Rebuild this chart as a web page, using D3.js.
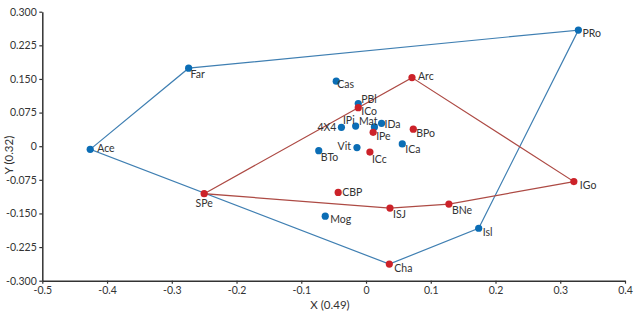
<!DOCTYPE html>
<html>
<head>
<meta charset="utf-8">
<script src="https://cdn.jsdelivr.net/npm/d3@7"></script>
<style>
  body { margin: 0; background: #fff; }
  svg text { font-family: Lato, "DejaVu Sans", sans-serif; fill: #333; }
</style>
</head>
<body>
<svg id="chart" width="635" height="319"></svg>
<script>
// point data
const names = ['Ace', 'Far', 'PRo', 'Isl', 'Cha', 'SPe', 'Arc', 'IGo', 'BNe', 'ISJ', 'CBP', 'Mog',
    'Cas', 'PBl', 'ICo', '4X4', 'IPi', 'Mat', 'IDa', 'IPe', 'BPo', 'ICa', 'Vit', 'BTo', 'ICc'];
const xVals = [-0.426, -0.274, 0.328, 0.174, 0.036, -0.250, 0.071, 0.321, 0.128, 0.037, -0.043, -0.063,
    -0.046, -0.012, -0.012, -0.038, -0.016, 0.013, 0.024, 0.011, 0.073, 0.056, -0.014, -0.073, 0.006];
const yVals = [-0.007, 0.174, 0.259, -0.183, -0.263, -0.106, 0.153, -0.079, -0.129, -0.138, -0.103, -0.156,
    0.145, 0.095, 0.086, 0.042, 0.045, 0.043, 0.051, 0.031, 0.038, 0.005, -0.003, -0.010, -0.013];
const groups = ['b', 'b', 'b', 'b', 'r', 'r', 'r', 'r', 'r', 'r', 'r', 'b',
    'b', 'b', 'r', 'b', 'b', 'b', 'b', 'r', 'r', 'b', 'b', 'b', 'r'];

// hull outlines
const blueHull = ['Ace', 'Far', 'PRo', 'Isl', 'Cha'];
const redHull = ['SPe', 'Arc', 'IGo', 'BNe', 'ISJ'];

const xTicks = [-0.5, -0.4, -0.3, -0.2, -0.1, 0, 0.1, 0.2, 0.3, 0.4];
const yTicks = [-0.300, -0.225, -0.150, -0.075, 0, 0.075, 0.150, 0.225, 0.300];
const xTitle = 'X (0.49)';
const yTitle = 'Y (0.32)';

// label placement (dx, dy, anchor)
const labelPos = {
    Ace: [7, 3, 'start'], Far: [2, 10, 'start'], PRo: [4, 7, 'start'], Isl: [4, 8, 'start'],
    Cha: [5, 8, 'start'], SPe: [0, 13, 'middle'], Arc: [6, 2, 'start'], IGo: [6, 7, 'start'],
    BNe: [3, 10, 'start'], ISJ: [3, 10, 'start'], CBP: [4, 4, 'start'], Mog: [5, 7, 'start'],
    Cas: [1, 7, 'start'], PBl: [3, -1, 'start'], ICo: [3, 7, 'start'], '4X4': [-5, 4, 'end'],
    IPi: [-1, -2, 'end'], Mat: [3, -1.5, 'end'], IDa: [3, 5, 'start'], IPe: [3, 8, 'start'],
    BPo: [3, 8, 'start'], ICa: [3, 9, 'start'], Vit: [-6, 2, 'end'], BTo: [2, 10, 'start'],
    ICc: [2, 11, 'start']
};

const colors = {
    b: { dot: '#0b6db5', line: '#3f7fb2' },
    r: { dot: '#cc2229', line: '#ad4a44' }
};

const points = names.map((n, i) => ({ name: n, x: xVals[i], y: yVals[i], g: groups[i] }));
const byName = {};
points.forEach(p => byName[p.name] = p);

const svg = d3.select('#chart');

const xScale = d3.scaleLinear().domain([-0.5, 0.4]).range([42.3, 625]);
const yScale = d3.scaleLinear().domain([-0.3, 0.3]).range([280.7, 11.7]);

//axes
const xAxis = d3.axisBottom(xScale)
    .tickValues(xTicks)
    .tickSize(3)
    .tickSizeOuter(0)
    .tickPadding(3)
    .tickFormat(d => d === 0 ? '0' : d3.format('.1f')(d).replace('−', '-'));

const yAxis = d3.axisLeft(yScale)
    .tickValues(yTicks)
    .tickSize(3)
    .tickSizeOuter(0)
    .tickPadding(2.5)
    .tickFormat(d => Math.abs(d) < 1e-9 ? '0' : d3.format('.3f')(d).replace('−', '-'));

const gx = svg.append('g')
    .attr('transform', `translate(0, ${yScale(-0.3)})`)
    .call(xAxis);

const gy = svg.append('g')
    .attr('transform', `translate(${xScale(-0.5)}, 0)`)
    .call(yAxis);

[gx, gy].forEach(g => {
    g.select('.domain').attr('stroke', '#333').attr('stroke-width', 1.5);
    g.selectAll('.tick line').attr('stroke', '#333').attr('stroke-width', 1.2);
    g.selectAll('.tick text')
        .attr('font-family', 'Lato, sans-serif')
        .attr('font-size', 10.5)
        .attr('fill', '#333');
});

svg.append('text')
    .attr('x', 330)
    .attr('y', 309)
    .attr('text-anchor', 'middle')
    .attr('font-size', 11.5)
    .text(xTitle);

svg.append('text')
    .attr('transform', 'translate(12.5, 155) rotate(-90)')
    .attr('text-anchor', 'middle')
    .attr('font-size', 11.5)
    .text(yTitle);

//hull lines
const line = d3.line()
    .x(d => xScale(d.x))
    .y(d => yScale(d.y))
    .curve(d3.curveLinearClosed);

svg.append('path')
    .datum(blueHull.map(n => byName[n]))
    .attr('d', line)
    .attr('fill', 'none')
    .attr('stroke', colors.b.line)
    .attr('stroke-width', 1.2);

svg.append('path')
    .datum(redHull.map(n => byName[n]))
    .attr('d', line)
    .attr('fill', 'none')
    .attr('stroke', colors.r.line)
    .attr('stroke-width', 1.2);

//points
svg.append('g')
    .selectAll('circle')
    .data(points)
    .join('circle')
    .attr('cx', d => xScale(d.x))
    .attr('cy', d => yScale(d.y))
    .attr('r', 3.6)
    .attr('fill', d => colors[d.g].dot);

//labels
svg.append('g')
    .selectAll('text')
    .data(points)
    .join('text')
    .attr('x', d => xScale(d.x) + labelPos[d.name][0])
    .attr('y', d => yScale(d.y) + labelPos[d.name][1])
    .attr('text-anchor', d => labelPos[d.name][2])
    .attr('font-size', 10.5)
    .text(d => d.name);
</script>
</body>
</html>
